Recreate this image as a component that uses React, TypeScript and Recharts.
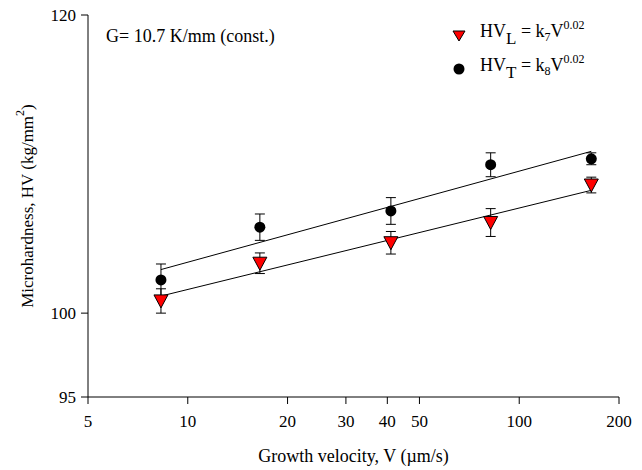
import React from "react";
import { ComposedChart, Scatter, XAxis, YAxis, ErrorBar, Label, Legend } from "recharts";

// growth velocity V (um/s)
const velocities = [8.3, 16.5, 41, 82, 165];
// HV_L (red triangles)
const hvL = [100.75, 103.1, 104.4, 105.7, 108.15];
const hvLErr = [0.75, 0.65, 0.72, 0.9, 0.52];
// HV_T (black circles)
const hvT = [102.05, 105.4, 106.45, 109.5, 109.9];
const hvTErr = [1.0, 0.85, 0.87, 0.8, 0.4];

// fitted lines (end points)
const fitV = [8.3, 165];
const fitL = [101.05, 107.8];
const fitT = [102.7, 110.4];

const xTicks = [5, 10, 20, 30, 40, 50, 100, 200];
const yTicks = [95, 100, 120];

const dataL = velocities.map((v, i) => ({ v, hv: hvL[i], err: hvLErr[i] }));
const dataT = velocities.map((v, i) => ({ v, hv: hvT[i], err: hvTErr[i] }));
const lineL = fitV.map((v, i) => ({ v, hv: fitL[i] }));
const lineT = fitV.map((v, i) => ({ v, hv: fitT[i] }));

const FONT = "'Times New Roman', 'Liberation Serif', serif";

const TriangleDown = (props: any) => {
  const { cx, cy } = props;
  return (
    <polygon
      points={`${cx - 7},${cy - 6} ${cx + 7},${cy - 6} ${cx},${cy + 7}`}
      fill="#ff0000"
      stroke="#000"
      strokeWidth={1}
    />
  );
};

const Dot = (props: any) => {
  const { cx, cy } = props;
  return <circle cx={cx} cy={cy} r={5.5} fill="#000" />;
};

const NoShape = () => <g />;

const LegendBox = () => (
  <svg width={642} height={90} style={{ fontFamily: FONT, display: "block" }}>
    <text x={106} y={42} fontSize={18} fill="#000">G= 10.7 K/mm (const.)</text>
    <polygon points="453,31 465,31 459,41" fill="#ff0000" stroke="#000" strokeWidth={1} />
    <text x={480} y={37} fontSize={18} fill="#000">
      HV<tspan dy={7} fontSize={17}>L</tspan>
      <tspan dy={-7}> = k</tspan>
      <tspan dy={4} fontSize={12}>7</tspan>
      <tspan dy={-4}>V</tspan>
      <tspan dy={-8} fontSize={12}>0.02</tspan>
    </text>
    <circle cx={459} cy={69} r={5.5} fill="#000" />
    <text x={480} y={71} fontSize={18} fill="#000">
      HV<tspan dy={7} fontSize={17}>T</tspan>
      <tspan dy={-7}> = k</tspan>
      <tspan dy={4} fontSize={12}>8</tspan>
      <tspan dy={-4}>V</tspan>
      <tspan dy={-8} fontSize={12}>0.02</tspan>
    </text>
  </svg>
);

const YTitle = (props: any) => {
  const vb = props.viewBox || {};
  const cx = 27;
  const cy = (vb.y || 0) + (vb.height || 0) / 2;
  return (
    <text
      x={cx}
      y={cy}
      transform={`rotate(-90 ${cx} ${cy})`}
      textAnchor="middle"
      dominantBaseline="central"
      fontSize={17}
      fontFamily={FONT}
      fill="#000"
    >
      Microhardness, HV (kg/mm<tspan dy={-7} fontSize={12}>2</tspan>
      <tspan dy={7}>)</tspan>
    </text>
  );
};

export default function App() {
  const tickStyle = { fill: "#000", fontSize: 17, fontFamily: FONT };
  return (
    <div style={{ position: "absolute", left: 0, top: 0, width: 642, height: 470, background: "#fff" }}>
      <ComposedChart width={642} height={470} margin={{ top: 15, right: 23, bottom: 0, left: 0 }}>
        <XAxis
          dataKey="v"
          type="number"
          scale="log"
          domain={[5, 200]}
          ticks={xTicks}
          allowDataOverflow
          height={73}
          stroke="#000"
          tickSize={7}
          tickMargin={11}
          tick={tickStyle}
          interval={0}
        >
          <Label
            value="Growth velocity, V (µm/s)"
            position="insideBottom"
            offset={8}
            style={{ fill: "#000", fontSize: 18, fontFamily: FONT }}
          />
        </XAxis>
        <XAxis
          xAxisId="top"
          orientation="top"
          type="number"
          scale="log"
          domain={[5, 200]}
          height={0}
          stroke="#000"
          tick={false}
          tickLine={false}
        />
        <YAxis
          dataKey="hv"
          type="number"
          scale="log"
          domain={[95, 120]}
          ticks={yTicks}
          allowDataOverflow
          width={88}
          stroke="#000"
          tickSize={7}
          tickMargin={5}
          tick={tickStyle}
          interval={0}
        >
          <Label content={<YTitle />} />
        </YAxis>
        <YAxis
          yAxisId="right"
          orientation="right"
          type="number"
          scale="log"
          domain={[95, 120]}
          width={0}
          stroke="#000"
          tick={false}
          tickLine={false}
        />
        <Legend
          verticalAlign="middle"
          align="center"
          layout="horizontal"
          wrapperStyle={{ top: 0, left: 0, width: 642, height: 90, pointerEvents: "none" }}
          content={<LegendBox />}
        />
        <Scatter data={lineL} line={{ stroke: "#000", strokeWidth: 1 }} shape={<NoShape />} isAnimationActive={false} legendType="none" />
        <Scatter data={lineT} line={{ stroke: "#000", strokeWidth: 1 }} shape={<NoShape />} isAnimationActive={false} legendType="none" />
        <Scatter data={dataT} shape={<Dot />} isAnimationActive={false}>
          <ErrorBar dataKey="err" direction="y" width={5} stroke="#000" strokeWidth={1} />
        </Scatter>
        <Scatter data={dataL} shape={<TriangleDown />} isAnimationActive={false}>
          <ErrorBar dataKey="err" direction="y" width={5} stroke="#000" strokeWidth={1} />
        </Scatter>
      </ComposedChart>
    </div>
  );
}
